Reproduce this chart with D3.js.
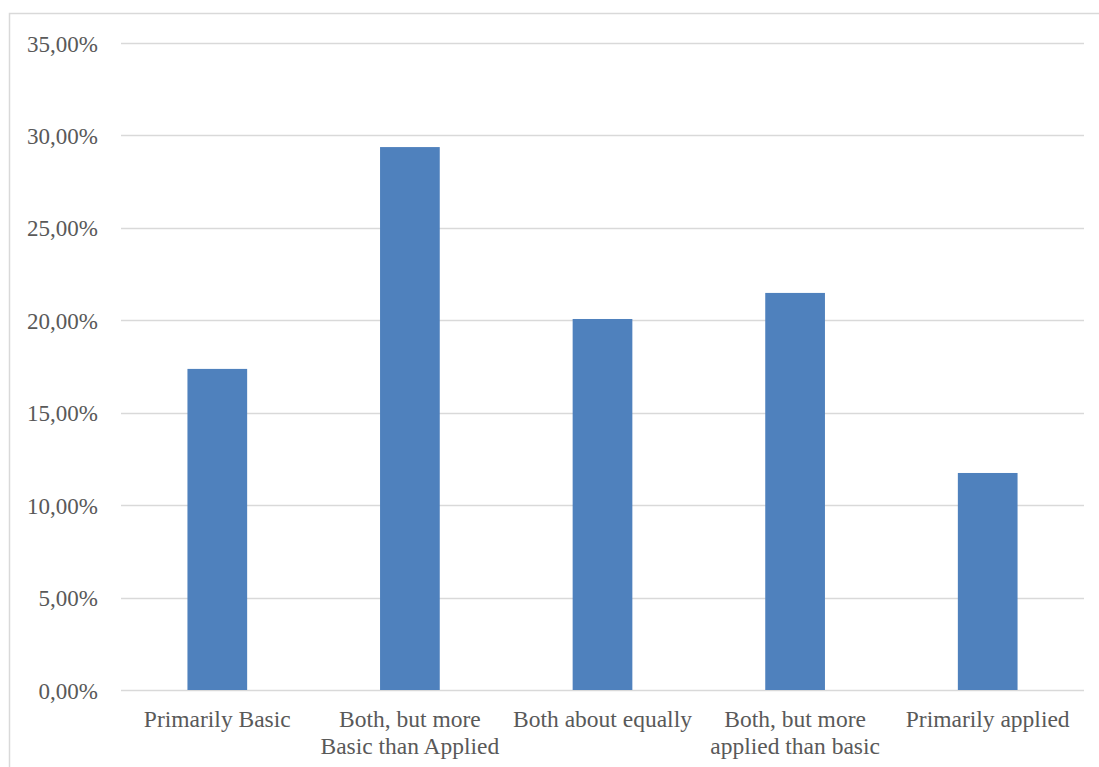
<!DOCTYPE html>
<html>
<head>
<meta charset="utf-8">
<script src="https://cdn.jsdelivr.net/npm/d3@7"></script>
<style>
  html, body { margin: 0; padding: 0; background: #fff; }
  svg { display: block; }
</style>
</head>
<body>
<svg id="chart" width="1099" height="767"></svg>
<script>
// Research orientation shares
const categories = [
  ["Primarily Basic"],
  ["Both, but more", "Basic than Applied"],
  ["Both about equally"],
  ["Both, but more", "applied than basic"],
  ["Primarily applied"]
];
const shares = [0.1737, 0.2937, 0.2007, 0.2148, 0.1174];
const yTicks = [0, 0.05, 0.10, 0.15, 0.20, 0.25, 0.30, 0.35];

const FONT = "'Liberation Serif', Tinos, 'Times New Roman', 'DejaVu Serif', serif";
const svg = d3.select("#chart");
const margin = { left: 121, right: 1084, top: 43, bottom: 690 };

// outer frame
svg.append("rect")
  .attr("x", 9.5).attr("y", 13.5)
  .attr("width", 1200).attr("height", 900)
  .attr("fill", "none").attr("stroke", "#d9d9d9").attr("stroke-width", 1.5);

const x = d3.scaleBand()
  .domain(d3.range(categories.length))
  .range([margin.left, margin.right])
  .paddingInner(0.69).paddingOuter(0.345);

const y = d3.scaleLinear().domain([0, 0.35]).range([margin.bottom, margin.top]);

const fmt = v => d3.format(".2f")(v * 100).replace(".", ",") + "%";

// gridlines
svg.append("g").selectAll("line").data(yTicks).join("line")
  .attr("x1", margin.left).attr("x2", margin.right)
  .attr("y1", d => Math.round(y(d)) + 0.5).attr("y2", d => Math.round(y(d)) + 0.5)
  .attr("stroke", "#d9d9d9").attr("stroke-width", 1.3);

// y tick labels
svg.append("g").selectAll("text").data(yTicks).join("text")
  .attr("x", 98).attr("y", d => y(d) + 8.5)
  .attr("text-anchor", "end")
  .attr("font-family", FONT)
  .attr("font-size", 23)
  .attr("fill", "#595959")
  .text(fmt);

// bars
svg.append("g").selectAll("rect").data(shares).join("rect")
  .attr("x", (d, i) => x(i)).attr("width", x.bandwidth())
  .attr("y", d => y(d)).attr("height", d => y(0) - y(d))
  .attr("fill", "#4f81bd");

// category labels
const lbl = svg.append("g").selectAll("text").data(categories).join("text")
  .attr("text-anchor", "middle")
  .attr("font-family", FONT)
  .attr("font-size", 23.5)
  .attr("fill", "#595959")
  .attr("x", (d, i) => x(i) + x.bandwidth() / 2)
  .attr("y", 727);
lbl.selectAll("tspan").data(d => d).join("tspan")
  .attr("x", function () { return d3.select(this.parentNode).attr("x"); })
  .attr("dy", (d, i) => i === 0 ? 0 : 27)
  .text(d => d);
</script>
</body>
</html>
